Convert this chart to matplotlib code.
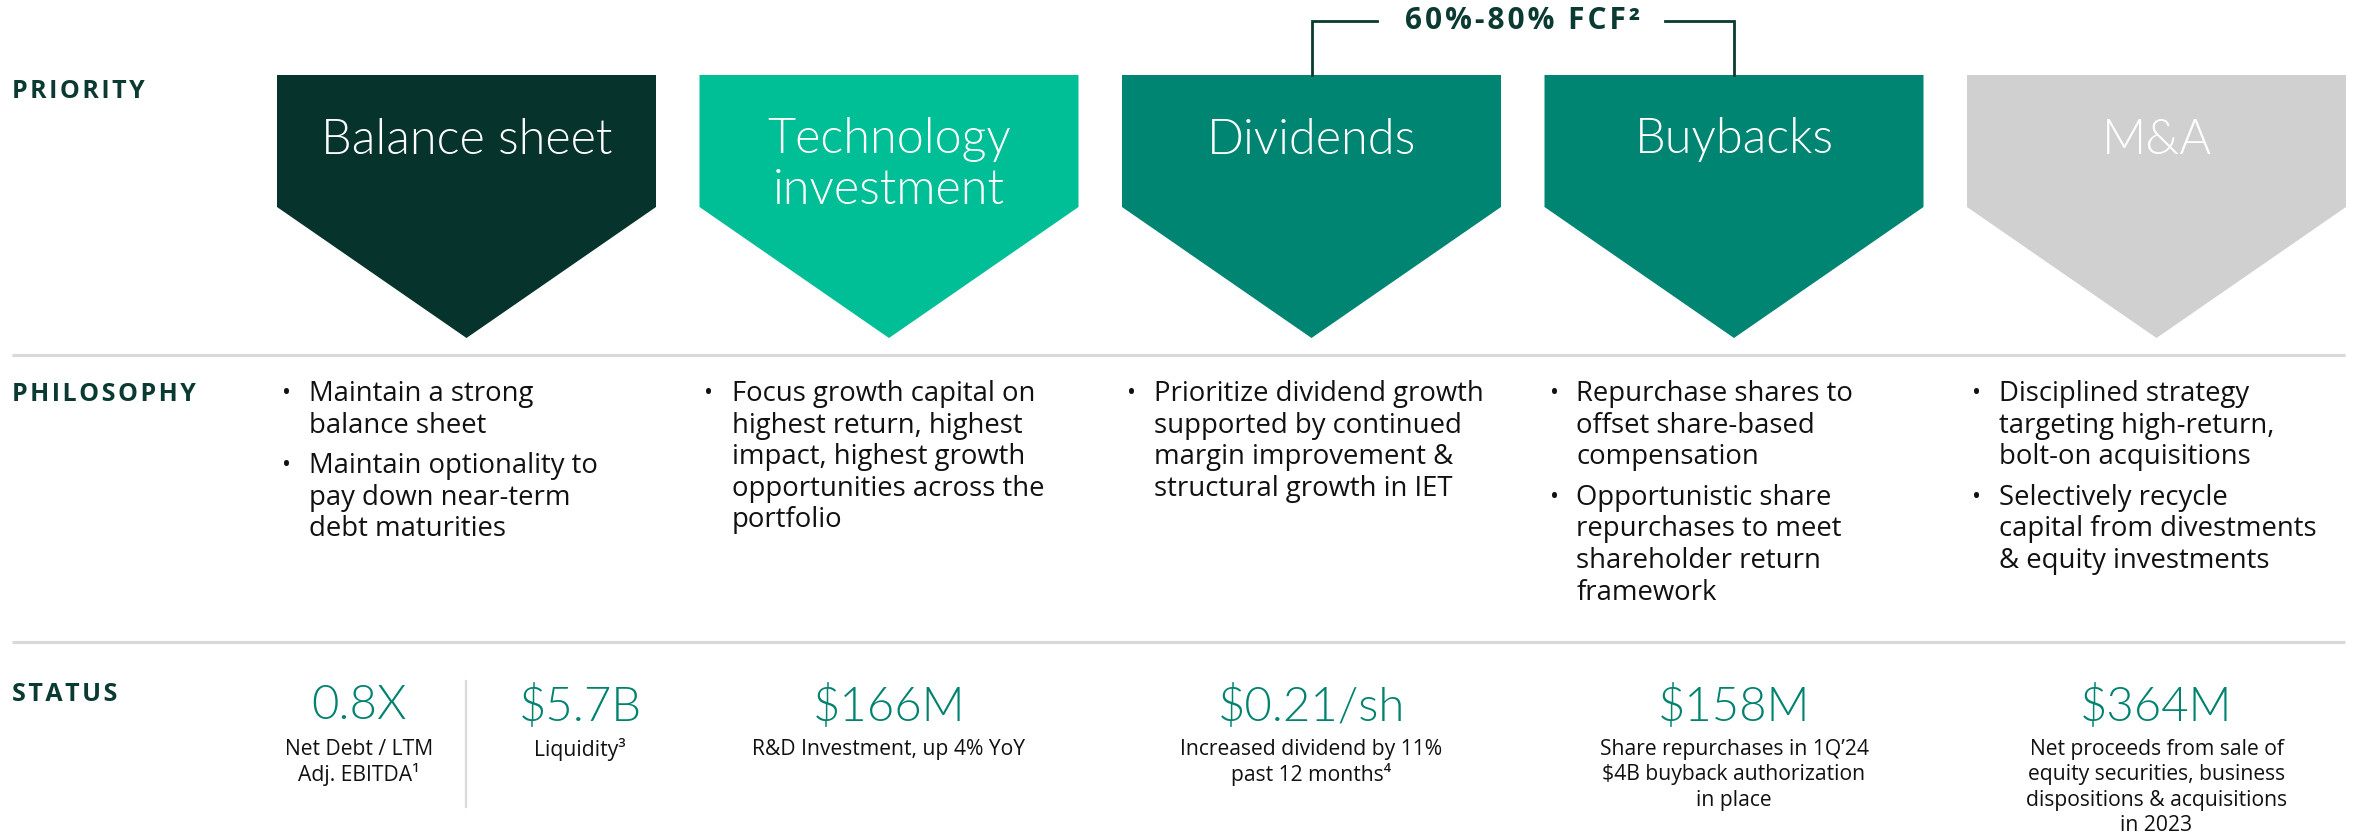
import matplotlib
matplotlib.use("Agg")
import matplotlib.pyplot as plt
from matplotlib.patches import Polygon

# ---------------- data ----------------
row_labels = ["PRIORITY", "PHILOSOPHY", "STATUS"]
priorities = ["Balance sheet", "Technology\ninvestment", "Dividends", "Buybacks", "M&A"]
priority_colors = ["#06332C", "#00BE95", "#008573", "#008573", "#D0D0D0"]
bracket_label = "60%-80% FCF\u00b2"
bracket_cols = [2, 3]

philosophy = [
    ["Maintain a strong\nbalance sheet", "Maintain optionality to\npay down near-term\ndebt maturities"],
    ["Focus growth capital on\nhighest return, highest\nimpact, highest growth\nopportunities across the\nportfolio"],
    ["Prioritize dividend growth\nsupported by continued\nmargin improvement &\nstructural growth in IET"],
    ["Repurchase shares to\noffset share-based\ncompensation", "Opportunistic share\nrepurchases to meet\nshareholder return\nframework"],
    ["Disciplined strategy\ntargeting high-return,\nbolt-on acquisitions", "Selectively recycle\ncapital from divestments\n& equity investments"],
]

status_values = ["0.8X", "$5.7B", "$166M", "$0.21/sh", "$158M", "$364M"]
status_desc = [
    "Net Debt / LTM\nAdj. EBITDA\u00b9",
    "Liquidity\u00b3",
    "R&D Investment, up 4% YoY",
    "Increased dividend by 11%\npast 12 months\u2074",
    "Share repurchases in 1Q\u201924\n$4B buyback authorization\nin place",
    "Net proceeds from sale of\nequity securities, business\ndispositions & acquisitions\nin 2023",
]
# column (chevron) each status item belongs to; first column is split in two halves
status_col = [0, 0, 1, 2, 3, 4]
status_sub = [-1, 1, 0, 0, 0, 0]

# ---------------- style ----------------
DARK = "#0A3A31"
TEAL = "#00826F"
GRID = "#D9D9D9"
TXT = "#111111"
FONT = ["Open Sans", "DejaVu Sans"]
LIGHT = ["Lato", "Open Sans", "DejaVu Sans"]

W, H = 2357, 838
fig = plt.figure(figsize=(W / 100, H / 100), dpi=100)
ax = fig.add_axes([0, 0, 1, 1])
ax.set_xlim(0, W)
ax.set_ylim(H, 0)
ax.axis("off")

x0, step, cw = 277, 422.5, 379
top, shoulder, tip = 75, 207, 338

def col_left(i):
    return x0 + i * step

def col_center(i):
    return col_left(i) + cw / 2

# row labels
label_y = [92, 394, 694]
for lab, y in zip(row_labels, label_y):
    ax.text(12, y, "\u200a".join(lab), family=FONT, fontsize=18, fontweight="bold",
            color=DARK, va="center", ha="left")

# separators
for y in [355, 642]:
    ax.plot([12, 2345], [y, y], color=GRID, lw=2.2, solid_capstyle="butt")

# chevrons
for i, (name, c) in enumerate(zip(priorities, priority_colors)):
    L = col_left(i)
    R = L + cw
    poly = Polygon([(L, top), (R, top), (R, shoulder), (L + cw / 2, tip), (L, shoulder)],
                   closed=True, facecolor=c, edgecolor="none")
    ax.add_patch(poly)
    for k, line in enumerate(name.split("\n")):
        ax.text(L + cw / 2, 140 + k * 50, line, family=LIGHT, fontweight=300, fontsize=35,
                color="white", ha="center", va="center")

# bracket over dividends and buybacks
bl, br = col_center(bracket_cols[0]), col_center(bracket_cols[1])
by = 21
mid = (bl + br) / 2
ax.plot([bl, bl, 1377], [top, by, by], color=DARK, lw=2, solid_joinstyle="miter")
ax.plot([1665, br, br], [by, by, top], color=DARK, lw=2, solid_joinstyle="miter")
ax.text(mid, by, "\u200a".join(bracket_label), family=FONT, fontsize=21.5, fontweight="bold",
        color=DARK, ha="center", va="center")

# philosophy bullets
line_h = 31.6
bullet_gap = 9
for i, items in enumerate(philosophy):
    L = col_left(i)
    y = 394
    for item in items:
        ax.text(L + 5, y, "\u2022", family=FONT, fontsize=17, color=TXT, ha="left", va="center")
        for line in item.split("\n"):
            ax.text(L + 32, y, line, family=FONT, fontsize=19.8, color=TXT, ha="left",
                    va="center")
            y += line_h
        y += bullet_gap

# status
for val, desc, c, s in zip(status_values, status_desc, status_col, status_sub):
    if s == -1:
        cx = 359
    elif s == 1:
        cx = 580
    else:
        cx = col_center(c)
    ax.text(cx, 706, val, family=LIGHT, fontweight=300, fontsize=34, color=TEAL,
            ha="center", va="center")
    for k, line in enumerate(desc.split("\n")):
        ax.text(cx, 749 + k * 25.6, line, family=FONT, fontsize=15.2, color=TXT,
                ha="center", va="center")

ax.plot([466, 466], [681, 807], color=GRID, lw=1.6)

fig.savefig("out.png", dpi=100)
